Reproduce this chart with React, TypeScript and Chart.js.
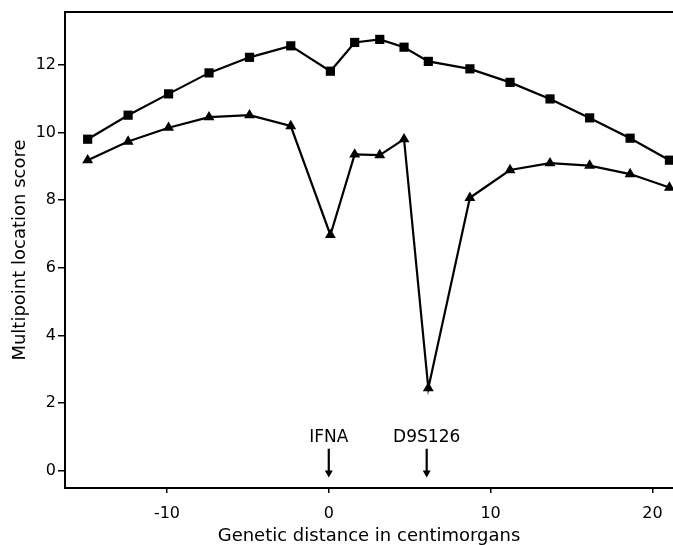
import React, { useEffect, useRef } from "react";
import { Chart, registerables } from "chart.js";

Chart.register(...registerables);

// Genetic distance (cM) of each evaluated position
const distances = [-14.9, -12.4, -9.9, -7.4, -4.9, -2.35, 0.1, 1.6, 3.15, 4.65, 6.15, 8.72, 11.2, 13.67, 16.12, 18.62, 21.05];
// Multipoint location scores
const squareScores = [9.8, 10.51, 11.14, 11.76, 12.22, 12.56, 11.81, 12.66, 12.75, 12.52, 12.1, 11.88, 11.48, 10.99, 10.43, 9.83, 9.18];
const triangleScores = [9.18, 9.73, 10.14, 10.45, 10.51, 10.19, 6.97, 9.35, 9.33, 9.8, 2.44, 8.07, 8.89, 9.09, 9.02, 8.77, 8.37];
// Axis ticks
const xTicks = [-10, 0, 10, 20];
const yTicks = [0, 2, 4, 6, 8, 10, 12];
// Marker loci
const markerNames = ["IFNA", "D9S126"];
const markerPositions = [0, 6.05];

const FONT = "'DejaVu Sans'";

const markerPlugin = {
  id: "markerLoci",
  afterDatasetsDraw(chart: any) {
    const { ctx, scales } = chart;
    const xs = scales.x;
    const ys = scales.y;
    ctx.save();
    ctx.fillStyle = "#000";
    ctx.strokeStyle = "#000";
    ctx.font = `17px ${FONT}`;
    ctx.textAlign = "center";
    ctx.textBaseline = "middle";
    markerNames.forEach((name, i) => {
      const px = xs.getPixelForValue(markerPositions[i]);
      ctx.fillText(name, px, ys.getPixelForValue(0.97));
      const top = ys.getPixelForValue(0.65);
      const tip = ys.getPixelForValue(-0.2);
      ctx.lineWidth = 2.2;
      ctx.beginPath();
      ctx.moveTo(px, top);
      ctx.lineTo(px, tip - 4);
      ctx.stroke();
      ctx.beginPath();
      ctx.moveTo(px - 4, tip - 7);
      ctx.lineTo(px + 4, tip - 7);
      ctx.lineTo(px, tip);
      ctx.closePath();
      ctx.fill();
    });
    ctx.restore();
  },
};

export default function App() {
  const ref = useRef<HTMLCanvasElement | null>(null);

  useEffect(() => {
    if (!ref.current) return;
    const xMin = -16.3;
    const xMax = 21.27;
    const chart = new Chart(ref.current, {
      type: "line",
      data: {
        datasets: [
          {
            label: "Squares",
            data: distances.map((x, i) => ({ x, y: squareScores[i] })),
            borderColor: "#000",
            borderWidth: 2.2,
            pointStyle: "rect",
            pointRadius: 6.5,
            pointBackgroundColor: "#000",
            pointBorderWidth: 0,
            tension: 0,
            clip: false as any,
          },
          {
            label: "Triangles",
            data: distances.map((x, i) => ({ x, y: triangleScores[i] })),
            borderColor: "#000",
            borderWidth: 2.2,
            pointStyle: "triangle",
            pointRadius: 6.3,
            pointBackgroundColor: "#000",
            pointBorderWidth: 0,
            tension: 0,
            clip: false as any,
          },
        ],
      },
      options: {
        animation: false,
        responsive: false,
        devicePixelRatio: 1,
        layout: { autoPadding: false, padding: { top: 12, left: 0, right: 0, bottom: 0 } },
        plugins: { legend: { display: false }, tooltip: { enabled: false } },
        scales: {
          x: {
            type: "linear",
            position: "bottom",
            min: xMin,
            max: xMax,
            afterBuildTicks: (s: any) => {
              s.ticks = xTicks.map((v) => ({ value: v }));
            },
            afterFit: (s: any) => {
              s.height = 57;
              s.paddingLeft = 0;
              s.paddingRight = 0;
            },
            grid: { display: true, drawOnChartArea: false, drawTicks: true, tickLength: 5, color: "#000", lineWidth: 1.5 },
            border: { display: true, color: "#000", width: 2 },
            ticks: { color: "#000", font: { family: FONT, size: 16 }, padding: 11, maxRotation: 0 },
            title: {
              display: true,
              text: "Genetic distance in centimorgans",
              color: "#000",
              font: { family: FONT, size: 18, lineHeight: 1 },
              padding: { top: 0, bottom: 0 },
            },
          },
          xTop: {
            type: "linear",
            position: "top",
            min: xMin,
            max: xMax,
            afterFit: (s: any) => {
              s.height = 0;
              s.paddingLeft = 0;
              s.paddingRight = 0;
            },
            ticks: { display: false },
            grid: { display: false },
            border: { display: true, color: "#000", width: 2 },
          },
          y: {
            type: "linear",
            position: "left",
            min: -0.51,
            max: 13.56,
            afterBuildTicks: (s: any) => {
              s.ticks = yTicks.map((v) => ({ value: v }));
            },
            afterFit: (s: any) => {
              s.width = 65;
            },
            grid: { display: true, drawOnChartArea: false, drawTicks: true, tickLength: 7, color: "#000", lineWidth: 1.5 },
            border: { display: true, color: "#000", width: 2 },
            ticks: { color: "#000", font: { family: FONT, size: 16 }, padding: 2 },
            title: {
              display: true,
              text: "Multipoint location score",
              color: "#000",
              font: { family: FONT, size: 18, lineHeight: 1 },
              padding: { top: 11, bottom: 0 },
            },
          },
        },
      } as any,
      plugins: [markerPlugin],
    });
    return () => chart.destroy();
  }, []);

  return (
    <div style={{ position: "absolute", left: 0, top: 0, width: 673, height: 545, background: "#fff" }}>
      <canvas ref={ref} width={673} height={545} style={{ display: "block" }} />
    </div>
  );
}
